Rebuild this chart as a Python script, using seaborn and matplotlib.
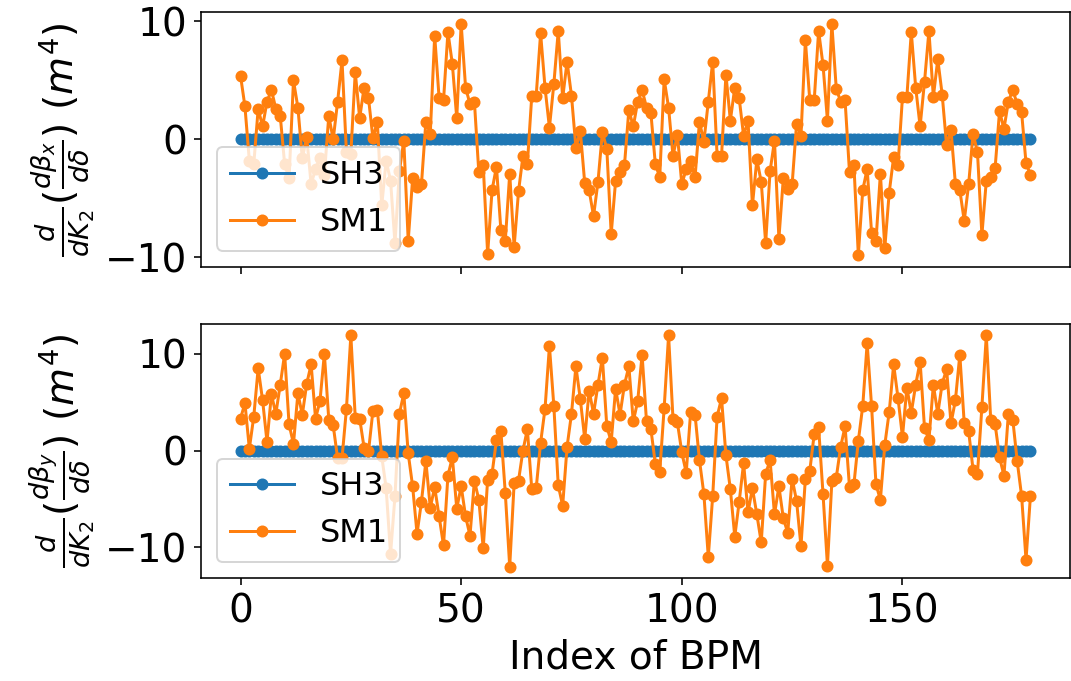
import numpy as np
import pandas as pd
import matplotlib
matplotlib.use("Agg")
import matplotlib.pyplot as plt
import seaborn as sns

# BPM index along the ring
n_bpm = 180
bpm_index = list(range(n_bpm))

# SH3 response sits on zero in both planes
sh3_beta_x = [0.0] * n_bpm
sh3_beta_y = [0.0] * n_bpm

# SM1 response, horizontal plane
sm1_beta_x = [
    5.4, 2.8, -1.8, -2.1, 2.6, 1.1, 3.2, 4.2, 2.6, 2.0,
    -2.1, -3.3, 5.0, 2.7, -1.6, 0.2, -3.8, -2.5, -1.6, -3.0,
    2.0, 0.0, 3.2, 6.7, -1.1, -1.2, 5.7, 1.8, 4.4, 3.5,
    0.1, 1.5, -5.6, -1.8, -3.5, -8.8, -2.7, -0.1, -8.6, -3.3,
    -4.0, -3.8, 1.5, 0.5, 8.8, 3.5, 3.3, 9.1, 6.4, 1.8,
    9.8, 4.4, 3.0, 3.2, -2.8, -2.2, -9.7, -4.3, -2.3, -7.7,
    -8.6, -2.9, -9.1, -4.4, -1.4, -2.1, 3.7, 3.7, 9.0, 4.4,
    1.0, 4.7, 9.2, 3.5, 6.6, 3.7, -0.7, 0.7, -3.7, -4.3,
    -6.5, -3.6, 0.6, -0.8, -8.0, -3.5, -2.8, -2.2, 2.5, 1.1,
    3.2, 4.2, 2.7, 2.2, -2.1, -3.2, 5.1, 2.7, -1.4, 0.4,
    -3.8, -2.5, -1.8, -3.2, 1.5, -0.2, 3.2, 6.6, -1.4, -1.4,
    5.5, 1.6, 4.4, 3.5, 0.3, 1.6, -5.6, -1.7, -3.6, -8.8,
    -2.7, -0.1, -8.4, -3.3, -4.2, -3.8, 1.3, 0.3, 8.4, 3.3,
    3.3, 9.2, 6.3, 1.6, 9.8, 4.3, 3.2, 3.3, -2.8, -2.2,
    -9.8, -4.3, -2.5, -7.9, -8.6, -2.9, -9.2, -4.5, -1.5, -2.2,
    3.6, 3.6, 9.1, 4.4, 1.1, 4.9, 9.2, 3.6, 6.8, 3.8,
    -0.5, 0.8, -3.8, -4.3, -6.9, -3.8, 0.5, -1.1, -8.1, -3.5,
    -3.2, -2.4, 2.4, 0.9, 3.2, 4.2, 3.0, 2.3, -2.0, -3.0,
]

# SM1 response, vertical plane
sm1_beta_y = [
    3.3, 4.9, 0.2, 3.5, 8.5, 5.2, 0.9, 5.8, 3.8, 6.8,
    10.0, 2.7, 0.7, 5.9, 3.7, 6.9, 8.9, 3.3, 5.1, 10.0,
    3.2, 2.6, -0.8, -0.8, 4.3, 11.9, 3.4, 3.3, 0.3, -0.1,
    4.1, 4.2, -0.6, -3.9, -10.7, -4.7, 3.8, 5.9, -0.3, -3.7,
    -8.6, -5.3, -1.1, -5.9, -3.8, -6.8, -9.8, -2.6, -0.7, -6.0,
    -3.7, -6.8, -8.8, -3.1, -5.1, -10.1, -3.0, -2.4, 1.1, 2.0,
    -4.4, -12.0, -3.4, -3.1, 0.0, 2.2, -4.0, -3.9, 0.8, 4.3,
    10.8, 4.6, -3.6, -5.7, 0.4, 3.8, 8.7, 5.3, 1.2, 6.2,
    3.8, 6.8, 9.6, 2.5, 0.9, 6.4, 3.7, 6.8, 8.7, 3.0,
    5.1, 9.9, 3.0, 2.2, -1.4, -2.2, 4.4, 11.9, 3.3, 2.9,
    -0.2, -2.3, 4.0, 3.7, -1.0, -4.5, -11.0, -4.7, 3.5, 5.4,
    -0.5, -4.0, -8.9, -5.3, -1.3, -6.4, -3.9, -6.6, -9.5, -2.4,
    -1.0, -6.6, -3.7, -7.0, -8.5, -2.9, -5.2, -9.9, -2.9, -2.1,
    1.7, 2.4, -4.5, -11.9, -3.2, -2.8, 0.4, 2.5, -3.8, -3.5,
    1.0, 4.6, 11.1, 4.6, -3.5, -5.1, 0.6, 4.0, 8.9, 5.4,
    1.4, 6.5, 3.9, 6.8, 9.2, 2.3, 1.1, 6.8, 3.8, 6.9,
    8.4, 2.8, 5.2, 9.9, 2.8, 2.0, -2.0, -2.4, 4.5, 11.9,
    3.2, 2.7, -0.7, -2.6, 3.8, 3.2, -1.1, -4.7, -11.3, -4.7,
]

series_names = ["SH3", "SM1"]
series_colors = ["#1f77b4", "#ff7f0e"]
x_ticks = [0, 50, 100, 150]
y_ticks = [-10, 0, 10]
y_labels = [
    r"$\frac{d}{dK_2}(\frac{d\beta_x}{d\delta})$ $(m^4)$",
    r"$\frac{d}{dK_2}(\frac{d\beta_y}{d\delta})$ $(m^4)$",
]

df_x = pd.DataFrame({"bpm": bpm_index, "SH3": sh3_beta_x, "SM1": sm1_beta_x})
df_y = pd.DataFrame({"bpm": bpm_index, "SH3": sh3_beta_y, "SM1": sm1_beta_y})

plt.rcParams["font.family"] = ["DejaVu Sans"]
plt.rcParams["font.size"] = 19.5

fig, axes = plt.subplots(2, 1, figsize=(1071 / 144, 681 / 144), dpi=144, sharex=True)
fig.subplots_adjust(left=0.1877, right=0.999, top=0.982, bottom=0.151, hspace=0.225)

for ax, df, ylab in zip(axes, [df_x, df_y], y_labels):
    for name, color in zip(series_names, series_colors):
        sns.lineplot(
            data=df,
            x="bpm",
            y=name,
            ax=ax,
            color=color,
            marker="o",
            markersize=5,
            markeredgecolor=color,
            markeredgewidth=1,
            linewidth=1.5,
            label=name,
        )
    ax.set_yticks(y_ticks)
    ax.set_ylabel(ylab)
    ax.set_xlabel("")
    ax.legend(loc="lower left", fontsize=16)

axes[1].set_xticks(x_ticks)
axes[1].set_xlabel("Index of BPM")

fig.savefig("out.png", dpi=144)
